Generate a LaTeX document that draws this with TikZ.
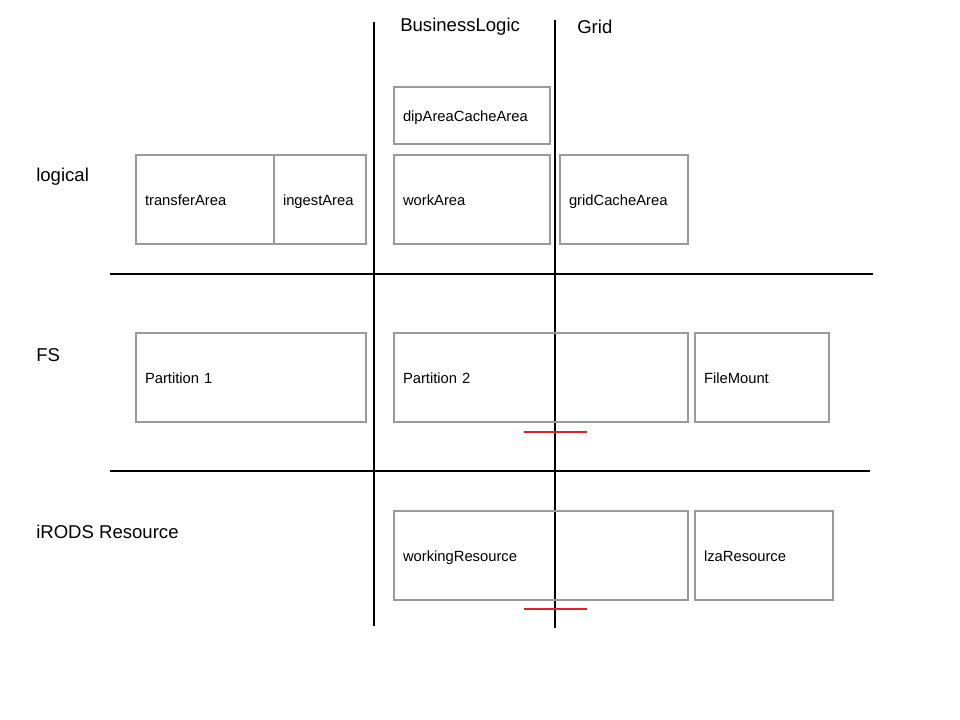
\documentclass[tikz,border=0pt]{standalone}
\usepackage{fontspec}
\setmainfont{Liberation Sans}
\usepackage{tikz}
\usetikzlibrary{positioning,calc}
\definecolor{boxgray}{HTML}{9A9A9A}
\definecolor{cutred}{HTML}{E0202A}

\tikzset{
  lane/.style={line width=1.4pt, black},
  area/.style={draw=boxgray, line width=1.4pt, anchor=north west, inner xsep=0.225cm,
    outer sep=0pt, text height=1.6ex, text depth=0ex,
    align=left, font=\fontsize{10.5}{12}\selectfont},
  head/.style={anchor=west, inner sep=0pt, font=\fontsize{13.2}{15}\selectfont},
  cut/.style={line width=1.4pt, cutred}
}

\begin{document}
\begin{tikzpicture}[x=0.025cm, y=-0.025cm]
\useasboundingbox (0,0) rectangle (960,720);
% swim lanes
\draw[lane] (374,22) coordinate(BLtop) -- (374,626) coordinate(BLbot);
\draw[lane] (555,20) coordinate(GRtop) -- (555,628) coordinate(GRbot);
\draw[lane] (110,274) coordinate(L1) -- (873,274) coordinate(R1);
\draw[lane] (110,471) coordinate(L2) -- (870,471) coordinate(R2);
\node[head] (bl) at (400,27) {BusinessLogic};
\node[head] (grid) at (577,27) {Grid};
\node[head] (logical) at (36,177) {logical};
\node[head] (fs) at (36,355) {FS};
\node[head] (irods) at (36,532) {iRODS Resource};
% logical areas
\node[area, text width=3.45cm, minimum height=1.425cm] (dip) at (394,87) {dipAreaCacheArea};
\node[area, text width=3cm, minimum height=2.225cm] (transfer) at (136,155) {transferArea};
\node[area, text width=1.85cm, minimum height=2.225cm] (ingest) at (274,155) {ingestArea};
\node[area, text width=3.45cm, minimum height=2.225cm] (work) at (394,155) {workArea};
\node[area, text width=2.75cm, minimum height=2.225cm] (gridcache) at (560,155) {gridCacheArea};
% file systems
\node[area, text width=5.3cm, minimum height=2.225cm] (part1) at (136,333) {Partition 1};
\node[area, text width=6.9cm, minimum height=2.225cm] (part2) at (394,333) {Partition 2};
\node[area, text width=2.9cm, minimum height=2.225cm] (mount) at (695,333) {FileMount};
% resources
\node[area, text width=6.9cm, minimum height=2.225cm] (working) at (394,511) {workingResource};
\node[area, text width=3cm, minimum height=2.225cm] (lza) at (695,511) {lzaResource};
% red marks
\draw[cut] (524,432) coordinate(c1) -- (587,432) coordinate(c2);
\draw[cut] (524,609) coordinate(c3) -- (587,609) coordinate(c4);
\end{tikzpicture}
\end{document}
